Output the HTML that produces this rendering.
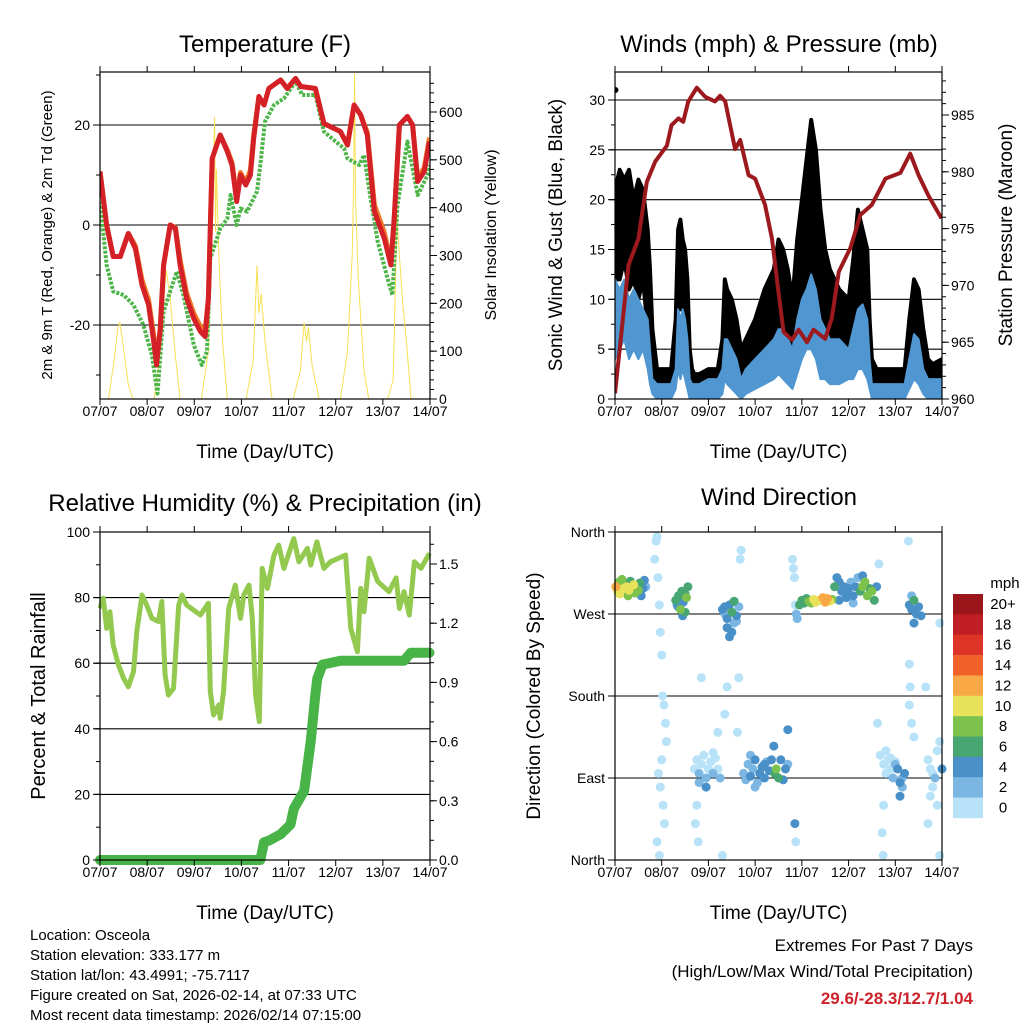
<!DOCTYPE html>
<html><head><meta charset="utf-8"><style>
html,body{margin:0;padding:0;background:#fff;}
svg{display:block;font-family:"Liberation Sans",sans-serif;}
</style></head><body>
<svg id="s" width="1024" height="1024" viewBox="0 0 1024 1024" xmlns="http://www.w3.org/2000/svg"></svg>
<script>
// ---------- DATA ----------
const dayLabels=["07/07","08/07","09/07","10/07","11/07","12/07","13/07","14/07"];
// temperature
const tT=[0,0.14,0.28,0.43,0.6,0.75,0.89,1.03,1.13,1.2,1.28,1.35,1.49,1.6,1.7,1.84,1.99,2.13,2.23,2.3,2.38,2.55,2.7,2.8,2.9,2.98,3.09,3.19,3.26,3.37,3.48,3.58,3.83,3.97,4.15,4.26,4.57,4.75,5.1,5.25,5.39,5.53,5.67,5.82,6.03,6.17,6.24,6.35,6.52,6.63,6.74,6.88,6.99];
const tRed=[10.7,0,-6.3,-6.3,-1.7,-4.7,-12,-16,-22.7,-28,-20.7,-8,0,-0.7,-8,-14.7,-18.7,-21.3,-22.3,-14.7,13.3,18,14.7,12,4.7,10,8,10,17.3,25.7,24,27.3,29,27.3,29.3,27.7,27.3,20.3,18.7,16,24,22,18,2.7,-2.7,-8,1.3,20,21.7,20,8.7,10.7,16.7];
const tOrange=[10.7,0,-6.3,-6.3,-1.7,-4.2,-11,-15,-21.5,-27,-20.7,-8,0,-0.5,-7,-13.7,-17.7,-20.3,-21.3,-14.7,13.3,18,15,12.5,5.5,10.5,8.5,11,18,25.7,24,27.3,29,27.3,29.3,27.7,27.3,20.3,18.7,16,24,22,18.5,4,-1.5,-7.5,1.3,20,21.7,20,9.2,11.5,17.5];
const tdT=[0,0.14,0.28,0.5,0.71,0.92,1.1,1.22,1.35,1.63,1.77,1.99,2.16,2.27,2.34,2.55,2.7,2.77,2.9,2.98,3.12,3.33,3.4,3.5,3.69,3.9,4.15,4.29,4.57,4.75,4.96,5.18,5.25,5.5,5.6,5.74,5.89,6.1,6.2,6.31,6.52,6.74,6.95,7];
const tdV=[4.7,-8,-13.3,-14,-16,-20,-26,-33.7,-17.3,-9.3,-14,-24,-28,-25.3,-6.7,-0.7,1.3,6,0,3.3,2.7,6.7,12,20.7,24,25.3,28.7,26,26,18.7,17,15.3,13.3,12,14,5.3,-3.3,-10.7,-14,4,16.7,6,10,12];
const solT=[0,0.18,0.3,0.38,0.42,0.48,0.6,0.7,1.15,1.3,1.4,1.48,1.6,1.7,2.15,2.3,2.38,2.43,2.45,2.47,2.52,2.6,2.7,3.1,3.25,3.33,3.37,3.42,3.5,3.65,4.1,4.25,4.33,4.38,4.42,4.5,4.65,5.1,5.25,5.35,5.38,5.4,5.42,5.48,5.6,5.7,6.1,6.22,6.3,6.35,6.42,6.5,6.6,7];
const solV=[0,0,80,150,160,120,30,0,0,120,270,220,90,0,0,100,380,590,350,480,300,120,0,0,80,280,180,220,120,0,0,60,160,120,150,70,0,0,100,300,450,680,420,250,60,0,0,40,380,300,200,120,0,0];
// winds
const gT=[0,0.1,0.2,0.3,0.4,0.5,0.6,0.7,0.75,0.8,0.9,1.0,1.1,1.2,1.3,1.35,1.4,1.45,1.5,1.55,1.6,1.65,1.7,1.8,2.0,2.2,2.3,2.35,2.4,2.5,2.6,2.7,2.8,3.0,3.2,3.4,3.5,3.6,3.7,3.8,3.9,4.0,4.1,4.2,4.3,4.4,4.5,4.6,4.8,5.0,5.1,5.2,5.3,5.4,5.45,5.5,5.6,5.8,6.0,6.2,6.3,6.4,6.5,6.6,6.7,6.8,7.0];
const gustHi=[21,23,22,23,20,22,21,17,13,7,3,3,3,3,8,17,18,16,15,12,5,3,2.5,2.5,3,3,6,12,11,10,8,5,6,8,11,13,16,15,13,10,16,20,24,28,25,19,15,13,11,10,14,19,17,15,8,4,3,3,3,3,8,12,11,7,4,3.5,4];
const gustLo=[12,12,14,11,12,10,12,7,5,2,1,1,1,1,3,10,9,10,8,6,2,1,1,1,1.2,1.5,2,5,4,3,2,1,1.5,2,3,4,5,4,3,2,6,9,10,10,8,4,4,3,3,4,5,6,5,4,2,1,1,1,1,1,3,5,4,2,1,1,1];
const windHi=[12,11,12,10,11,10,9,8,5,2,1.5,1.5,1.5,1.5,3,9,8,9,8,6,2,1.5,1.5,1.5,2,2,3,6,6,5,4,2,3,4,5,6,7,7,6,5,8,10,11,12.5,11,8,7,6,6,5,7,9,9.5,8,4,1.5,1.5,1.5,1.5,1.5,4,6.5,6,3,2,2,2];
const windLo=[4,5,6,4,5,4,5,3,1.5,0.5,0,0,0,0,1,3,2,3,2,1,0,0,0,0,0,0,0.5,2,1.5,1,0.5,0,0.5,1,1.5,2,2.5,2,1.5,1,2.5,4,5,5,4,2,2,1.5,1.5,2,2,3,3,2,1,0,0,0,0,0,1,2,1.5,0.5,0,0,0];
const presT=[0,0.14,0.29,0.5,0.68,0.86,1.11,1.21,1.36,1.46,1.57,1.75,1.93,2.14,2.25,2.36,2.57,2.68,2.86,3.0,3.21,3.36,3.5,3.61,3.79,3.93,4.11,4.25,4.5,4.64,4.79,5.04,5.25,5.5,5.79,6.11,6.32,6.5,6.71,6.99];
const presV=[960.5,965.9,971.8,974.1,979.1,980.9,982.3,984.1,984.7,984.4,986.2,987.4,986.6,986.2,986.7,986.2,982,982.8,979.7,979.4,977.1,974.1,969.4,965.9,965.2,966.1,965,966.1,965.3,967.1,971.2,973.3,976.2,977.1,979.4,979.9,981.6,979.7,977.9,975.9];
// RH & precip
const rhT=[0,0.07,0.14,0.21,0.28,0.39,0.5,0.6,0.71,0.78,0.89,0.99,1.1,1.24,1.31,1.38,1.45,1.56,1.67,1.74,1.84,2.13,2.3,2.34,2.41,2.52,2.55,2.62,2.73,2.87,2.98,3.05,3.16,3.23,3.3,3.38,3.44,3.55,3.69,3.79,3.9,4.11,4.22,4.4,4.47,4.6,4.75,4.89,5.21,5.32,5.46,5.53,5.6,5.71,5.89,6.13,6.28,6.35,6.45,6.56,6.67,6.81,6.99];
const rhV=[76.7,79.8,70.6,75.7,65.5,59.5,55.4,52.8,57.4,69.6,80.8,77.7,73.7,72.7,78.8,56.4,50.3,52.3,77.7,80.8,77.7,74.7,78.3,51.3,44.2,47.3,43.2,51.3,76.7,83.8,73.7,80.8,83.8,73.7,50.3,42.2,88.9,82.8,93,96,88.9,98,90.9,95,89.9,97,88.9,90.9,93,70.6,63.5,82.8,75.7,92,84.9,81.8,86,76.7,81.8,74.7,90.9,88.9,93.5];
const pcpT=[0,3.4,3.48,3.6,3.83,4.04,4.11,4.33,4.47,4.57,4.61,4.72,5.1,6.45,6.59,6.99];
const pcpV=[0,0,0.09,0.1,0.13,0.18,0.26,0.35,0.6,0.84,0.92,0.99,1.01,1.01,1.05,1.05];
// wind direction scatter
const dirT=[0.02,0.05,0.08,0.1,0.12,0.15,0.18,0.2,0.22,0.25,0.28,0.3,0.33,0.36,0.4,0.43,0.46,0.5,0.53,0.56,0.6,0.63,0.66,
0.85,0.88,0.9,0.92,0.95,0.97,1.0,1.02,1.05,1.08,1.1,1.0,0.93,0.97,1.03,1.06,0.9,0.95,
1.3,1.33,1.36,1.4,1.43,1.46,1.5,1.53,1.56,1.35,1.45,1.5,
1.7,1.75,1.8,1.85,1.9,1.95,2.0,2.05,2.1,2.15,2.2,2.25,1.8,1.95,2.1,1.75,1.72,1.78,1.85,2.2,
2.3,2.35,2.4,2.45,2.5,2.55,2.6,2.65,2.4,2.5,2.55,2.45,2.6,2.35,
2.35,2.4,2.62,2.68,2.7,2.65,2.3,
2.75,2.8,2.85,2.9,2.95,3.0,3.05,3.1,3.15,3.2,3.25,3.3,2.9,3.0,3.1,3.2,
3.35,3.4,3.42,3.45,3.5,3.55,3.6,3.65,3.7,
3.8,3.82,3.84,3.86,3.88,3.9,3.85,3.87,3.7,
3.95,4.0,4.05,4.1,4.15,4.2,4.25,4.3,4.35,
4.4,4.45,4.5,4.55,4.6,4.65,
4.7,4.75,4.8,4.85,4.9,4.95,5.0,5.05,5.1,5.15,5.2,4.8,4.95,5.1,
5.25,5.3,5.35,5.4,5.45,5.5,5.55,5.6,5.3,
5.65,5.62,5.68,
5.75,5.8,5.85,5.9,5.95,6.0,6.05,6.1,6.15,6.2,5.8,5.9,6.0,5.75,5.72,5.74,6.1,6.15,
6.3,6.35,6.4,6.45,6.5,6.55,6.4,6.35,
6.28,6.3,6.32,6.3,6.35,6.4,
6.7,6.75,6.8,6.85,6.9,6.95,7.0,6.8,6.9,6.75,6.7,6.95,6.65,6.95];
const dirV=[300,296,305,292,300,308,298,294,303,300,290,296,306,299,302,293,300,296,304,290,298,307,300,
330,350,355,310,280,250,225,180,170,150,130,110,95,80,60,40,20,5,
285,280,290,275,295,283,272,288,300,278,268,292,
100,110,95,105,115,90,100,108,95,112,100,90,85,80,118,60,40,20,200,140,
275,270,265,280,272,260,268,278,255,250,284,245,262,278,
160,190,140,330,340,200,5,
95,88,105,92,100,110,85,95,102,90,108,98,115,80,95,105,
110,125,95,100,90,110,88,100,105,
330,320,310,280,270,265,40,20,143,
280,285,282,287,284,282,286,283,285,
285,288,283,287,284,286,
300,310,305,295,300,292,298,305,290,300,310,285,288,282,
295,300,305,290,298,295,285,300,312,
325,150,115,
105,95,110,100,90,105,100,85,90,95,120,112,108,60,30,5,70,80,
280,275,285,270,278,268,260,290,
350,215,190,170,150,135,
110,100,95,90,120,130,100,80,60,70,40,5,190,260];
const dirS=[12,10,8,10,7,9,10,8,6,10,8,11,7,9,10,8,6,9,7,5,4,4,3,
0,0,0,0,0,0,0,0,0,0,0,0,0,0,0,0,0,0,
6,4,6,8,6,4,6,8,6,4,4,6,
0,0,2,0,0,2,0,0,2,0,0,2,2,4,0,0,0,0,0,0,
4,2,4,4,6,2,4,2,4,4,6,4,2,4,
0,0,0,0,0,0,0,
2,2,2,4,2,4,2,2,4,4,2,4,2,2,4,4,
4,4,6,8,6,4,4,4,2,
0,0,0,0,2,2,4,0,4,
6,6,6,6,8,8,10,10,10,
10,12,12,12,10,8,
6,4,4,4,4,4,4,2,4,4,2,4,4,2,
6,8,8,8,6,8,6,4,4,
0,0,0,
0,0,0,0,2,2,4,4,2,4,0,0,0,0,0,0,4,2,
4,4,6,4,4,4,4,2,
0,0,0,0,0,0,
0,0,0,2,0,0,4,0,0,0,0,0,0,0];
const cbLabels=["20+","18","16","14","12","10","8","6","4","2","0"];
const cbColors=["#9b161b","#bf1e24","#de3428","#f0622a","#f8a945","#e8e15a","#7dc24c","#48a672","#4a90c8","#7cb7e3","#b7e2f7"];

// ---------- HELPERS ----------
const NS="http://www.w3.org/2000/svg";
const svg=document.getElementById('s');
function mk(tag,attrs,parent){const e=document.createElementNS(NS,tag);for(const k in attrs)e.setAttribute(k,attrs[k]);(parent||svg).appendChild(e);return e;}
function txt(x,y,s,size,anchor,parent,extra){const e=mk('text',Object.assign({x:x,y:y,'font-size':size,'text-anchor':anchor||'middle',fill:'#000'},extra||{}),parent);e.textContent=s;return e;}
function xs(p,d){return p.x0+(p.x1-p.x0)*d/7;}
function lin(v0,y0,v1,y1){return v=>y0+(v-v0)*(y1-y0)/(v1-v0);}
function pathOf(p,T,V,f){return T.map((t,i)=>(i?'L':'M')+xs(p,t).toFixed(1)+' '+f(V[i]).toFixed(1)).join(' ');}
function bandOf(p,T,H,L,f){let d='M'+T.map((t,i)=>xs(p,t).toFixed(1)+' '+f(H[i]).toFixed(1)).join(' L');for(let i=T.length-1;i>=0;i--)d+=' L'+xs(p,T[i]).toFixed(1)+' '+f(L[i]).toFixed(1);return d+'Z';}
function frame(p,g){
  mk('rect',{x:p.x0,y:p.y0,width:p.x1-p.x0,height:p.y1-p.y0,fill:'none',stroke:'#000','stroke-width':1.2},g);
  for(let i=0;i<8;i++){const x=xs(p,i);
    mk('line',{x1:x,y1:p.y1,x2:x,y2:p.y1+6,stroke:'#000'},g);
    mk('line',{x1:x,y1:p.y0,x2:x,y2:p.y0-6,stroke:'#000'},g);
    txt(x,p.y1+17,dayLabels[i],14,'middle',g);}
  txt((p.x0+p.x1)/2,p.y1+59,'Time (Day/UTC)',19,'middle',g);
}
function leftTicks(p,g,vals,f,labels,minor){
  minor.forEach(v=>mk('line',{x1:p.x0,y1:f(v),x2:p.x0-4,y2:f(v),stroke:'#000'},g));
  vals.forEach((v,i)=>{mk('line',{x1:p.x0,y1:f(v),x2:p.x0-7,y2:f(v),stroke:'#000'},g);txt(p.x0-10,f(v)+5,labels[i],14,'end',g);});
}
function rightTicks(p,g,vals,f,labels,minor){
  minor.forEach(v=>mk('line',{x1:p.x1,y1:f(v),x2:p.x1+4,y2:f(v),stroke:'#000'},g));
  vals.forEach((v,i)=>{mk('line',{x1:p.x1,y1:f(v),x2:p.x1+7,y2:f(v),stroke:'#000'},g);txt(p.x1+9,f(v)+5,labels[i],14,'start',g);});
}
function grid(p,g,vals,f){vals.forEach(v=>mk('line',{x1:p.x0-6,y1:f(v),x2:p.x1,y2:f(v),stroke:'#000','stroke-width':1.1},g));}
function vlabel(x,y,s,size,g){const e=txt(x,y,s,size,'middle',g,{transform:'rotate(-90 '+x+' '+y+')'});return e;}
function range(a,b,s){const r=[];for(let v=a;v<=b+1e-9;v+=s)r.push(+v.toFixed(4));return r;}

// ---------- PANEL 1: TEMPERATURE ----------
(function(){
const p={x0:100,x1:430,y0:72,y1:399};
const g=mk('g',{});


const fT=lin(0,225,20,125), fS=lin(0,399,600,112);
const clip=mk('clipPath',{id:'c1'},g);mk('rect',{x:p.x0,y:p.y0,width:p.x1-p.x0,height:p.y1-p.y0},clip);
const t=txt(265,52,'Temperature (F)',24,'middle',g);
grid(p,g,[20,0,-20],fT);
const pg=mk('g',{'clip-path':'url(#c1)'},g);
const sl=mk('path',{d:pathOf(p,solT,solV,fS),fill:'none',stroke:'#f7df55','stroke-width':1},pg);

const gl=mk('path',{d:pathOf(p,tdT,tdV,fT),fill:'none',stroke:'#4db548','stroke-width':4,'stroke-dasharray':'3 1.5','stroke-linejoin':'round'},pg);

const ol=mk('path',{d:pathOf(p,tT,tOrange,fT),fill:'none',stroke:'#f27a2a','stroke-width':5,'stroke-linejoin':'round'},pg);

const rl=mk('path',{d:pathOf(p,tT,tRed,fT),fill:'none',stroke:'#d42027','stroke-width':5,'stroke-linejoin':'round'},pg);

frame(p,g);
leftTicks(p,g,[20,0,-20],fT,['20','0','-20'],[30,10,-10,-30]);
rightTicks(p,g,range(0,600,100),fS,range(0,600,100).map(String),range(0,660,20));
vlabel(52,235,'2m & 9m T (Red, Orange) & 2m Td (Green)',15,g);
vlabel(496,235,'Solar Insolation (Yellow)',16,g);
})();

// ---------- PANEL 2: WINDS ----------
(function(){
const p={x0:615,x1:942,y0:72,y1:399};
const g=mk('g',{});


const fW=lin(0,399,30,100), fP=lin(960,399,985,115);
const clip=mk('clipPath',{id:'c2'},g);mk('rect',{x:p.x0,y:p.y0,width:p.x1-p.x0,height:p.y1-p.y0},clip);
txt(779,52,'Winds (mph) & Pressure (mb)',24,'middle',g);
grid(p,g,[5,10,15,20,25,30],fW);
const pg=mk('g',{'clip-path':'url(#c2)'},g);
const gb=mk('path',{d:bandOf(p,gT,gustHi,gustLo,fW),fill:'#000',stroke:'#000','stroke-width':4,'stroke-linejoin':'round'},pg);

const gd=mk('circle',{cx:xs(p,0.01),cy:fW(31),r:3,fill:'#000'},pg);

const wb=mk('path',{d:bandOf(p,gT,windHi,windLo,fW),fill:'#5097d1',stroke:'#5097d1','stroke-width':2,'stroke-linejoin':'round'},pg);

const pl=mk('path',{d:pathOf(p,presT,presV,fP),fill:'none',stroke:'#9c1a1d','stroke-width':4,'stroke-linejoin':'round'},pg);

frame(p,g);
leftTicks(p,g,range(0,30,5),fW,range(0,30,5).map(String),range(0,32,2.5));
rightTicks(p,g,range(960,985,5),fP,range(960,985,5).map(String),range(960,988,1));
vlabel(562,235,'Sonic Wind & Gust (Blue, Black)',19,g);
vlabel(1012,235,'Station Pressure (Maroon)',19,g);
})();

// ---------- PANEL 3: RH & PRECIP ----------
(function(){
const p={x0:100,x1:430,y0:532,y1:860};
const g=mk('g',{});


const fR=lin(0,860,100,532), fQ=lin(0,860,1.5,564);
txt(265,511,'Relative Humidity (%) & Precipitation (in)',24,'middle',g);
grid(p,g,[20,40,60,80],fR);
const rl=mk('path',{d:pathOf(p,rhT,rhV,fR),fill:'none',stroke:'#93c94f','stroke-width':5,'stroke-linejoin':'round'},g);

const ql=mk('path',{d:pathOf(p,pcpT,pcpV,fQ),fill:'none',stroke:'#48b347','stroke-width':10,'stroke-linejoin':'round','stroke-linecap':'round'},g);

frame(p,g);
leftTicks(p,g,range(0,100,20),fR,range(0,100,20).map(String),range(0,100,10));
rightTicks(p,g,range(0,1.5,0.3),fQ,['0.0','0.3','0.6','0.9','1.2','1.5'],range(0,1.65,0.1));
vlabel(45,696,'Percent & Total Rainfall',20,g);
})();

// ---------- PANEL 4: WIND DIRECTION ----------
(function(){
const p={x0:615,x1:942,y0:532,y1:860};
const g=mk('g',{});


const fD=lin(0,860,360,532);
txt(779,505,'Wind Direction',24,'middle',g);
grid(p,g,[90,180,270],fD);
function colorFor(s){const i=Math.min(10,Math.floor(s/2));return cbColors[10-i];}
const order=dirS.map((s,i)=>i).sort((a,b)=>dirS[a]-dirS[b]);
order.forEach(i=>{
  const c=mk('circle',{cx:xs(p,dirT[i]).toFixed(1),cy:fD(dirV[i]).toFixed(1),r:4.5,fill:colorFor(dirS[i])},g);
  
  
});
frame(p,g);
leftTicks(p,g,[360,270,180,90,0],fD,['North','West','South','East','North'],[]);
vlabel(540,696,'Direction (Colored By Speed)',19,g);
// colorbar
const cb=mk('g',{},g);


txt(1005,588,'mph',15,'middle',cb);
cbColors.forEach((c,i)=>{
  mk('rect',{x:953,y:594+i*20.36,width:30,height:20.6,fill:c},cb);
  txt(1003,609+i*20.36,cbLabels[i],15,'middle',cb);
});
})();

// ---------- FOOTER ----------
(function(){
const g=mk('g',{});


["Location: Osceola","Station elevation: 333.177 m","Station lat/lon: 43.4991; -75.7117","Figure created on Sat, 2026-02-14, at 07:33 UTC","Most recent data timestamp: 2026/02/14 07:15:00"].forEach((s,i)=>txt(30,940+i*20,s,15,'start',g));
const h=mk('g',{});


txt(973,951,'Extremes For Past 7 Days',17,'end',h);
txt(973,977,'(High/Low/Max Wind/Total Precipitation)',17,'end',h);
txt(973,1004,'29.6/-28.3/12.7/1.04',17,'end',h,{fill:'#cc2229','font-weight':'bold'});
})();
</script>
</body></html>
